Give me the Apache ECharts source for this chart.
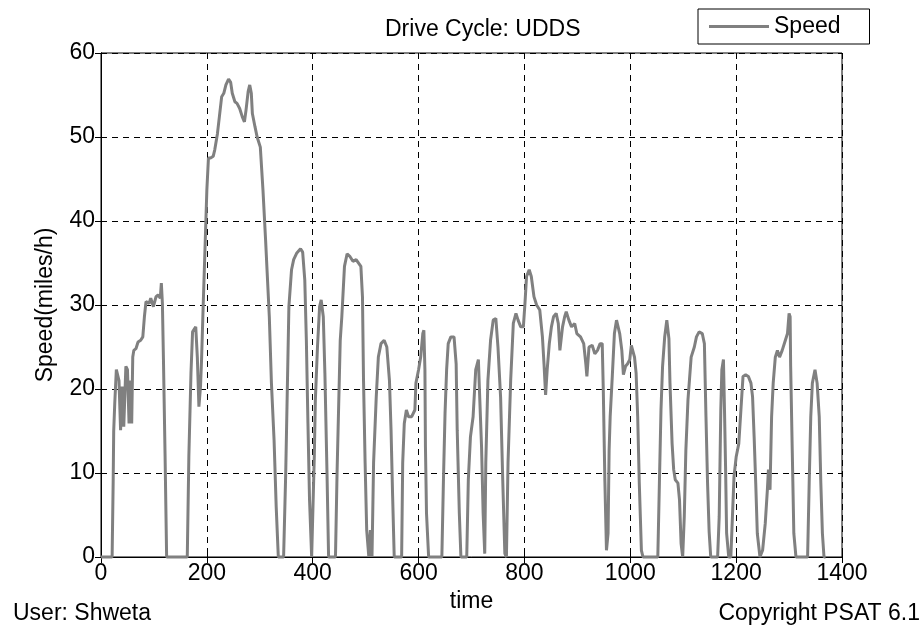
<!DOCTYPE html>
<html>
<head>
<meta charset="utf-8">
<script src="https://cdn.jsdelivr.net/npm/echarts@6/dist/echarts.min.js"></script>
<style>
html,body{margin:0;padding:0;background:#fff;}
#chart{width:923px;height:631px;}
</style>
</head>
<body>
<div id="chart"></div>
<script>
// Drive cycle UDDS: time (s) and speed (miles/h)
const times = [0,21,23,24,26,29,31,34,37,40,43,47,50,53,55,58,60,62,66,70,75,79,82,85,88,91,94,99,104,108,112,114,116,118,121,124,
163,166,170,173,176,179,182,185,188,190,193,197,200,203,207,212,215,220,224,228,232,236,241,245,248,253,257,262,267,271,274,278,281,284,286,291,295,301,306,311,314,318,322,327,331,335,
345,349,352,355,360,364,370,377,381,385,388,391,394,398,401,403,405,409,413,416,420,423,427,430,
443,446,452,455,460,465,470,476,482,491,494,496,499,502,506,509,512,515,520,524,529,535,540,545,548,551,554,
568,570,573,577,581,587,593,595,600,604,608,610,612,613,615,619,
644,647,650,653,656,661,667,671,673,677,680,
691,694,698,703,708,713,715,719,722,725,727,731,736,741,746,750,755,759,763,766,769,774,779,784,788,793,798,801,804,809,813,818,823,829,834,837,840,843,847,851,855,860,864,867,872,876,879,884,889,895,899,906,912,916,918,922,928,933,938,943,947,949,952,955,958,960,962,966,970,974,977,980,984,987,991,995,999,1002,1005,1008,1011,1014,1017,1021,1024,
1052,1055,1058,1061,1065,1069,1073,1075,1079,1082,1085,1090,1093,1096,1099,1102,1105,1109,1115,1121,1125,1130,1136,1140,1143,1146,1149,1152,
1165,1168,1171,1173,1176,1178,1180,1182,1186,1190,1193,1196,1200,1205,1209,1213,1218,1223,1228,1231,1234,1237,1240,1245,1250,1255,1259,1261,1264,1267,1270,1274,1278,1282,1287,1293,1297,1300,1302,1303,1306,1309,1313,
1335,1338,1341,1344,1349,1353,1357,1360,1363,1366,1369];
const speeds = [0,0,9,15,18.3,22.3,22.3,21,15.1,20.3,15.5,22.7,22.3,15.9,21,15.9,23.8,24.6,24.8,25.6,25.8,26.2,28.6,30.4,30.6,30.2,30.8,29.8,31,31.2,30.8,32.6,30.2,23.5,12.3,0,
0,12,21.9,26.8,26.6,27.4,23.8,17.9,20.3,23.5,29.8,37.7,43.7,47.5,47.5,47.7,48.5,50.4,52.6,54.8,55.2,56.2,56.9,56.5,55.2,54.2,54,53.4,52.4,51.8,53.2,55.4,56.2,55.2,52.8,51.2,50,48.8,43.7,37.7,33.8,28.6,20.7,13.9,6,0,
0,10,19.9,29.8,34.2,35.4,36.2,36.7,36.3,33,25.8,15.9,6.8,0,0,12,18.7,25,29.8,30.6,28.6,21.9,10,0,
0,10,25.8,28.6,34.6,36.1,35.8,35.2,35.4,34.6,31,21,11.2,3.2,0,3.2,0,11.2,19,23.8,25.4,25.8,25,21,15.1,7.2,0,
0,11.2,15.9,17.5,16.7,16.7,17.5,20.7,22.3,23.8,26.6,27,22.3,13.1,5.2,0,
0,9.2,17.1,22.3,25.4,26.2,26.2,23,15.1,5.2,0,
0,9.2,14.3,16.7,22.3,23.5,19.9,13.1,5.2,0.4,11.2,21,25.8,28.2,28.4,25,19,9.2,0.4,0,11.2,21,27.8,29,28.2,27.4,27.4,30.2,33.4,34.2,33.4,31,30,29.4,26.2,23,19.3,22.3,25.4,27.4,28.6,29,27.8,24.6,27.4,28.6,29.2,28.2,27.4,27.8,26.6,26.2,25.4,23,21.5,25,25.2,24.2,24.6,25.4,25.4,19.9,9,0.8,2.8,12.7,16.7,21.5,26.6,28.2,28.4,26.6,24.6,21.7,22.7,23,23.5,25.2,25.2,23.8,21.9,16.7,8.8,0.8,0,
0,8.8,17.5,22.7,26.2,28.2,26,20.7,13.5,10.4,9.2,8.8,6.8,1.6,0,4.8,12.7,18.7,23.8,25,26.2,26.8,26.6,25.4,16.7,8.8,3,0,
0,4.8,17.5,22.3,23.5,17.5,10.8,2.8,0,0,4.8,9.6,11.9,13.5,17.5,21.5,21.7,21.5,20.7,19.1,14.3,8.8,2.8,0,0.8,4,8,10.4,8,16.7,20.7,23.8,24.6,23.8,24.6,25.8,26.6,29,28.6,22.7,12.7,2.8,0,
0,8.8,16.7,20.7,22.3,20.7,16.7,8.8,2.8,0,0];
const xTicks = [0,200,400,600,800,1000,1200,1400];
const yTicks = [0,10,20,30,40,50,60];

const pairs = times.map((t,i)=>[t, speeds[i]]);
const FONT = '"Liberation Sans", Arial, Helvetica, sans-serif';
const FS = 23;

const chart = echarts.init(document.getElementById('chart'), null, {renderer:'canvas'});
chart.setOption({
  animation: false,
  backgroundColor: '#fff',
  textStyle: {fontFamily: FONT},
  title: {
    text: 'Drive Cycle: UDDS',
    left: 380, top: 13,
    textStyle: {fontFamily: FONT, fontSize: FS, fontWeight: 'normal', color: '#000'}
  },
  legend: {
    data: ['Speed'],
    left: 698, top: 9,
    padding: [6, 29, 6, 11],
    borderColor: '#000', borderWidth: 1, borderRadius: 0,
    backgroundColor: '#fff',
    icon: 'rect',
    itemWidth: 60, itemHeight: 3, itemGap: 10,
    textStyle: {fontFamily: FONT, fontSize: FS, color: '#000', padding: [0,0,0,0]}
  },
  grid: {
    left: 101, right: 81, top: 53, bottom: 74,
    show: true, borderColor: '#000', borderWidth: 1, backgroundColor: '#fff'
  },
  xAxis: [{
    type: 'value', min: xTicks[0], max: xTicks[xTicks.length-1], interval: 200,
    name: 'time', nameLocation: 'middle', nameGap: 31,
    nameTextStyle: {fontFamily: FONT, fontSize: FS, color: '#000'},
    axisLine: {show: true, lineStyle: {color: '#000', width: 1}},
    axisTick: {show: true, inside: true, length: 6, lineStyle: {color: '#000'}},
    axisLabel: {fontFamily: FONT, fontSize: FS, color: '#000', margin: 5, formatter: v => String(v)},
    splitLine: {show: true, lineStyle: {color: '#000', type: [6, 5], width: 1}}
  }, {
    type: 'value', position: 'top', min: 0, max: 1400, interval: 200,
    axisLine: {show: true, lineStyle: {color: '#000'}},
    axisTick: {show: true, inside: true, length: 6, lineStyle: {color: '#000'}},
    axisLabel: {show: false}, splitLine: {show: false}
  }],
  yAxis: [{
    type: 'value', min: yTicks[0], max: yTicks[yTicks.length-1], interval: 10,
    name: 'Speed(miles/h)', nameLocation: 'middle', nameGap: 44, nameRotate: 90,
    nameTextStyle: {fontFamily: FONT, fontSize: FS, color: '#000'},
    axisLine: {show: true, lineStyle: {color: '#000', width: 1}},
    axisTick: {show: true, inside: true, length: 6, lineStyle: {color: '#000'}},
    axisLabel: {fontFamily: FONT, fontSize: FS, color: '#000', margin: 6},
    splitLine: {show: true, lineStyle: {color: '#000', type: [6, 5], width: 1}}
  }, {
    type: 'value', position: 'right', min: 0, max: 60, interval: 10,
    axisLine: {show: true, lineStyle: {color: '#000'}},
    axisTick: {show: true, inside: true, length: 6, lineStyle: {color: '#000'}},
    axisLabel: {show: false}, splitLine: {show: false}
  }],
  series: [{
    name: 'Speed', type: 'line', data: pairs,
    xAxisIndex: 0, yAxisIndex: 0,
    symbol: 'none', showSymbol: false,
    lineStyle: {color: '#808080', width: 3},
    itemStyle: {color: '#808080'},
    clip: false
  }],
  graphic: [
    {type: 'text', left: 13, top: 602, style: {text: 'User: Shweta', fontFamily: FONT, fontSize: FS, fill: '#000'}},
    {type: 'text', right: 3, top: 602, style: {text: 'Copyright PSAT 6.1', fontFamily: FONT, fontSize: FS, fill: '#000'}}
  ]
});
</script>
</body>
</html>
